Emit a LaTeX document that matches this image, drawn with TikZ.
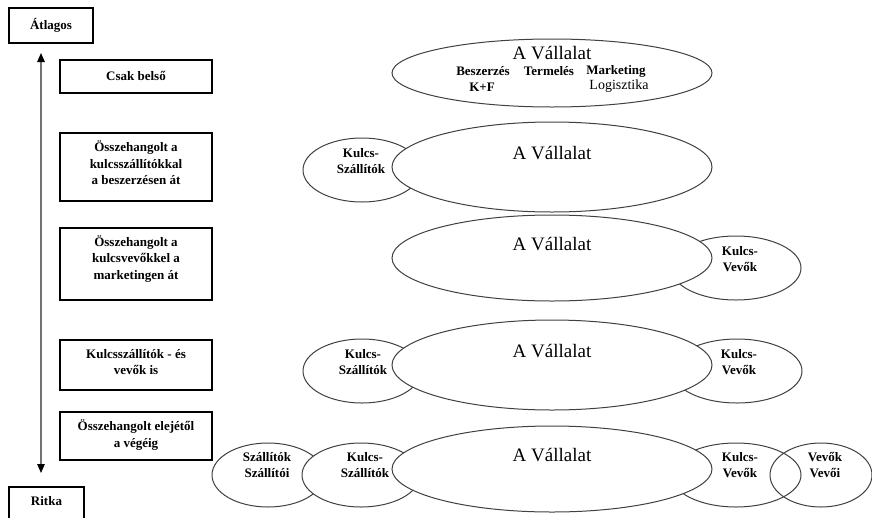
\documentclass[tikz,border=0pt]{standalone}
\usepackage{fontspec}
\setmainfont{Liberation Serif}
\usetikzlibrary{shapes.geometric,arrows.meta}
\begin{document}
\begin{tikzpicture}[x=1pt,y=-1pt,
  levelbox/.style={draw=black,line width=1.1pt,rectangle,inner sep=0pt,minimum width=152pt},
  boxtext/.style={font=\fontsize{13}{16.5}\selectfont\bfseries,align=center,inner sep=0pt},
  oval/.style={draw=black!75,line width=1pt,ellipse,inner sep=0pt},
  firm/.style={oval,fill=white,minimum width=320pt},
  firmtext/.style={font=\fontsize{19}{22}\selectfont,inner sep=0pt},
  partner/.style={font=\fontsize{13}{16.5}\selectfont\bfseries,align=center,inner sep=0pt},
  unit/.style={font=\fontsize{13}{16}\selectfont\bfseries,inner sep=0pt},
  scalearrow/.style={black!55,line width=1.3pt,<->,>={Triangle[length=9pt,width=7.5pt,color=black]}},
]
\useasboundingbox (0,0) rectangle (872,517);
\clip (0,0) rectangle (872,517);

% scale ends
\node[draw=black,line width=1.1pt,minimum width=84pt,minimum height=35pt,inner sep=0pt,
      font=\fontsize{13}{16}\selectfont\bfseries] (avg) at (51,25.5) {Átlagos};
\node[draw=black,line width=1.1pt,minimum width=75pt,minimum height=40pt,inner sep=0pt] (rare) at (46.5,507) {};
\node[unit] (raretext) at (46.5,501) {Ritka};
\coordinate (top) at (41,53);
\coordinate (bot) at (41,473);
\draw[scalearrow] (bot) -- (top);

% level boxes
\node[levelbox,minimum height=33pt] (l1) at (136,76.5) {};
\node[levelbox,minimum height=68pt] (l2) at (136,167) {};
\node[levelbox,minimum height=72pt] (l3) at (136,264) {};
\node[levelbox,minimum height=50pt] (l4) at (136,365) {};
\node[levelbox,minimum height=48pt] (l5) at (136,436) {};
\node[boxtext] (t1) at (136,76) {Csak belső};
\node[boxtext] (t2) at (136,163) {Összehangolt a\\kulcsszállítókkal\\a beszerzésen át};
\node[boxtext] (t3) at (136,259) {Összehangolt a\\kulcsvevőkkel a\\marketingen át};
\node[boxtext] (t4) at (136,362) {Kulcsszállítók - és\\vevők is};
\node[boxtext] (t5) at (136,435) {Összehangolt elejétől\\a végéig};

% partner ovals (drawn below the company ovals)
\node[oval,minimum width=118pt,minimum height=64pt] (ks2) at (362,170) {};
\node[oval,minimum width=130pt,minimum height=64pt] (kv3) at (736,268) {};
\node[oval,minimum width=118pt,minimum height=64pt] (ks4) at (362,371) {};
\node[oval,minimum width=130pt,minimum height=64pt] (kv4) at (737,371) {};
\node[oval,fill=white,minimum width=112pt,minimum height=64pt] (ss5) at (268,475) {};
\node[oval,fill=white,minimum width=118pt,minimum height=64pt] (ks5) at (361,475) {};
\node[oval,minimum width=102pt,minimum height=64pt] (vv5) at (821,475) {};
\node[oval,minimum width=130pt,minimum height=64pt] (kv5) at (736,475) {};

% company ovals
\node[firm,minimum height=68pt] (f1) at (552,73) {};
\node[firm,minimum height=90pt] (f2) at (552,167) {};
\node[firm,minimum height=86pt] (f3) at (552,258) {};
\node[firm,minimum height=90pt] (f4) at (552,365) {};
\node[firm,minimum height=86pt] (f5) at (552,469) {};

% company texts
\node[firmtext] (f1t) at (552,53) {A Vállalat};
\node[unit] (f1a) at (483,71) {Beszerzés};
\node[unit] (f1b) at (549,71) {Termelés};
\node[unit] (f1c) at (616,71) {Marketing};
\node[unit] (f1d) at (482,87) {K+F};
\node[font=\fontsize{14}{16}\selectfont,inner sep=0pt] (f1e) at (619,86) {Logisztika};
\node[firmtext] (f2t) at ([yshift=14pt]f2.center) {A Vállalat};
\node[firmtext] (f3t) at ([yshift=14pt]f3.center) {A Vállalat};
\node[firmtext] (f4t) at ([yshift=14pt]f4.center) {A Vállalat};
\node[firmtext] (f5t) at ([yshift=14pt]f5.center) {A Vállalat};

% partner texts
\node[partner] (ks2t) at (361,161) {Kulcs-\\Szállítók};
\node[partner] (kv3t) at (740,259) {Kulcs-\\Vevők};
\node[partner] (ks4t) at (363,362) {Kulcs-\\Szállítók};
\node[partner] (kv4t) at (739,362) {Kulcs-\\Vevők};
\node[partner] (ss5t) at (267,465) {Szállítók\\Szállítói};
\node[partner] (ks5t) at (365,465) {Kulcs-\\Szállítók};
\node[partner] (kv5t) at (740,465) {Kulcs-\\Vevők};
\node[partner] (vv5t) at (825,465) {Vevők\\Vevői};
\end{tikzpicture}
\end{document}
